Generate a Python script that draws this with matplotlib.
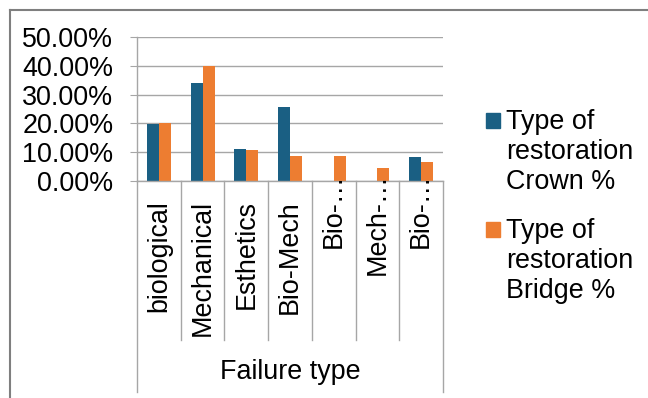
import matplotlib
matplotlib.use("Agg")
import matplotlib.pyplot as plt
from matplotlib.lines import Line2D
from matplotlib.patches import Rectangle
from matplotlib.ticker import FuncFormatter
import numpy as np

# Failure types and restoration percentages
categories = ["biological", "Mechanical", "Esthetics", "Bio-Mech", "Bio-…", "Mech-…", "Bio-…"]
crown_pct = [19.8, 34.1, 11.2, 25.6, 0.0, 0.0, 8.3]
bridge_pct = [20.0, 40.0, 10.7, 8.8, 8.8, 4.5, 6.6]
series_names = ["Type of\nrestoration\nCrown %", "Type of\nrestoration\nBridge %"]
axis_title = "Failure type"
y_ticks = [0, 10, 20, 30, 40, 50]

CROWN = "#1a5f83"
BRIDGE = "#ed7d31"
GRID = "#a6a6a6"
FONT = "Liberation Sans"
FS = 19.4

W, H = 648, 398
fig = plt.figure(figsize=(W / 100, H / 100), dpi=100)
plt.rcParams["font.family"] = [FONT, "DejaVu Sans"]


def fx(x):
    return x / W


def fy(y):
    return 1 - y / H


# plot area in pixels
L, R, T, B = 137, 443, 37, 181
ax = fig.add_axes([fx(L), fy(B), fx(R - L), (B - T) / H])

n = len(categories)
x = np.arange(n)
bw = 0.275
ax.bar(x - bw / 2, crown_pct, bw, color=CROWN, zorder=2)
ax.bar(x + bw / 2, bridge_pct, bw, color=BRIDGE, zorder=2)

ax.set_xlim(-0.5, n - 0.5)
ax.set_ylim(0, 50)
ax.set_yticks(y_ticks)
ax.yaxis.set_major_formatter(FuncFormatter(lambda v, p: f"{v:.2f}%"))
ax.tick_params(axis="y", length=5, color=GRID, labelsize=FS, pad=12, labelcolor="black")
ax.set_xticks([])
ax.yaxis.grid(True, color=GRID, lw=1, zorder=0)
ax.set_axisbelow(True)
for s in ["top", "right"]:
    ax.spines[s].set_visible(False)
for s in ["left", "bottom"]:
    ax.spines[s].set_color(GRID)
    ax.spines[s].set_linewidth(1)

# category divider lines below the axis
ph = B - T
for i in range(n + 1):
    bottom = 392 if i in (0, n) else 340
    xa = i / n
    ax.add_line(Line2D([xa, xa], [0, -(bottom - B) / ph], transform=ax.transAxes,
                       color=GRID, lw=1, clip_on=False))

# rotated category labels
ell_px = FS * 100 / 72
for i, lab in enumerate(categories):
    top_px = 200 - (ell_px if lab.endswith("…") else 0)
    ax.text((i + 0.5) / n, -(top_px - B) / ph, lab, rotation=90, ha="center", va="top",
            transform=ax.transAxes, fontsize=FS, zorder=5, clip_on=False)

ax.text(0.5, -(372 - B) / ph, axis_title, ha="center", va="center",
        transform=ax.transAxes, fontsize=FS)

# legend
for name, col, y0 in zip(series_names, [CROWN, BRIDGE], [113, 222]):
    fig.patches.append(Rectangle((fx(486), fy(y0 + 15)), 14 / W, 15 / H,
                                 transform=fig.transFigure, color=col))
    fig.text(fx(506), fy(y0 - 4), name, ha="left", va="top", fontsize=FS,
             linespacing=1.2)

# outer frame
fig.add_artist(Line2D([fx(9.5), 1], [fy(9.5), fy(9.5)], color="#7f7f7f", lw=1.5))
fig.add_artist(Line2D([fx(9.5), fx(9.5)], [fy(9.5), 0], color="#7f7f7f", lw=1.5))

fig.savefig("out.png", dpi=100)
